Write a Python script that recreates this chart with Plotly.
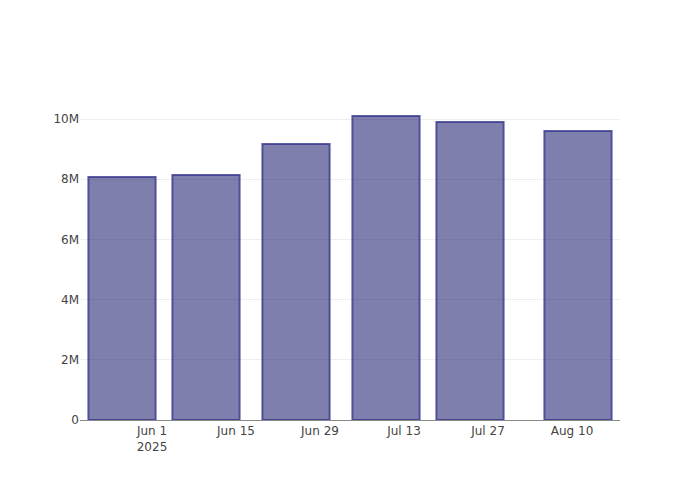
import plotly.graph_objects as go

dates = ["2025-05-27", "2025-06-10", "2025-06-25", "2025-07-10", "2025-07-24", "2025-08-11"]
values = [8.07e6, 8.14e6, 9.17e6, 10.1e6, 9.9e6, 9.6e6]

fig = go.Figure(go.Bar(
    x=dates, y=values,
    marker=dict(color="rgba(42,42,120,0.6)", line=dict(color="rgba(55,55,140,0.8)", width=2)),
))
fig.update_layout(
    width=700, height=500,
    paper_bgcolor="white", plot_bgcolor="white",
    font=dict(family="DejaVu Sans", size=12, color="#444"),
    margin=dict(l=72, r=88, t=92, b=88),
    showlegend=False,
)
fig.update_xaxes(showgrid=False, showline=True, linecolor="#888", linewidth=1, ticks="",
                 dtick=14*24*3600*1000, tick0="2025-06-01", tickformat="%b %-d\n%Y")
fig.update_yaxes(showgrid=True, gridcolor="#eee", zeroline=False, tickformat="~s")
fig.write_html("out.html")
